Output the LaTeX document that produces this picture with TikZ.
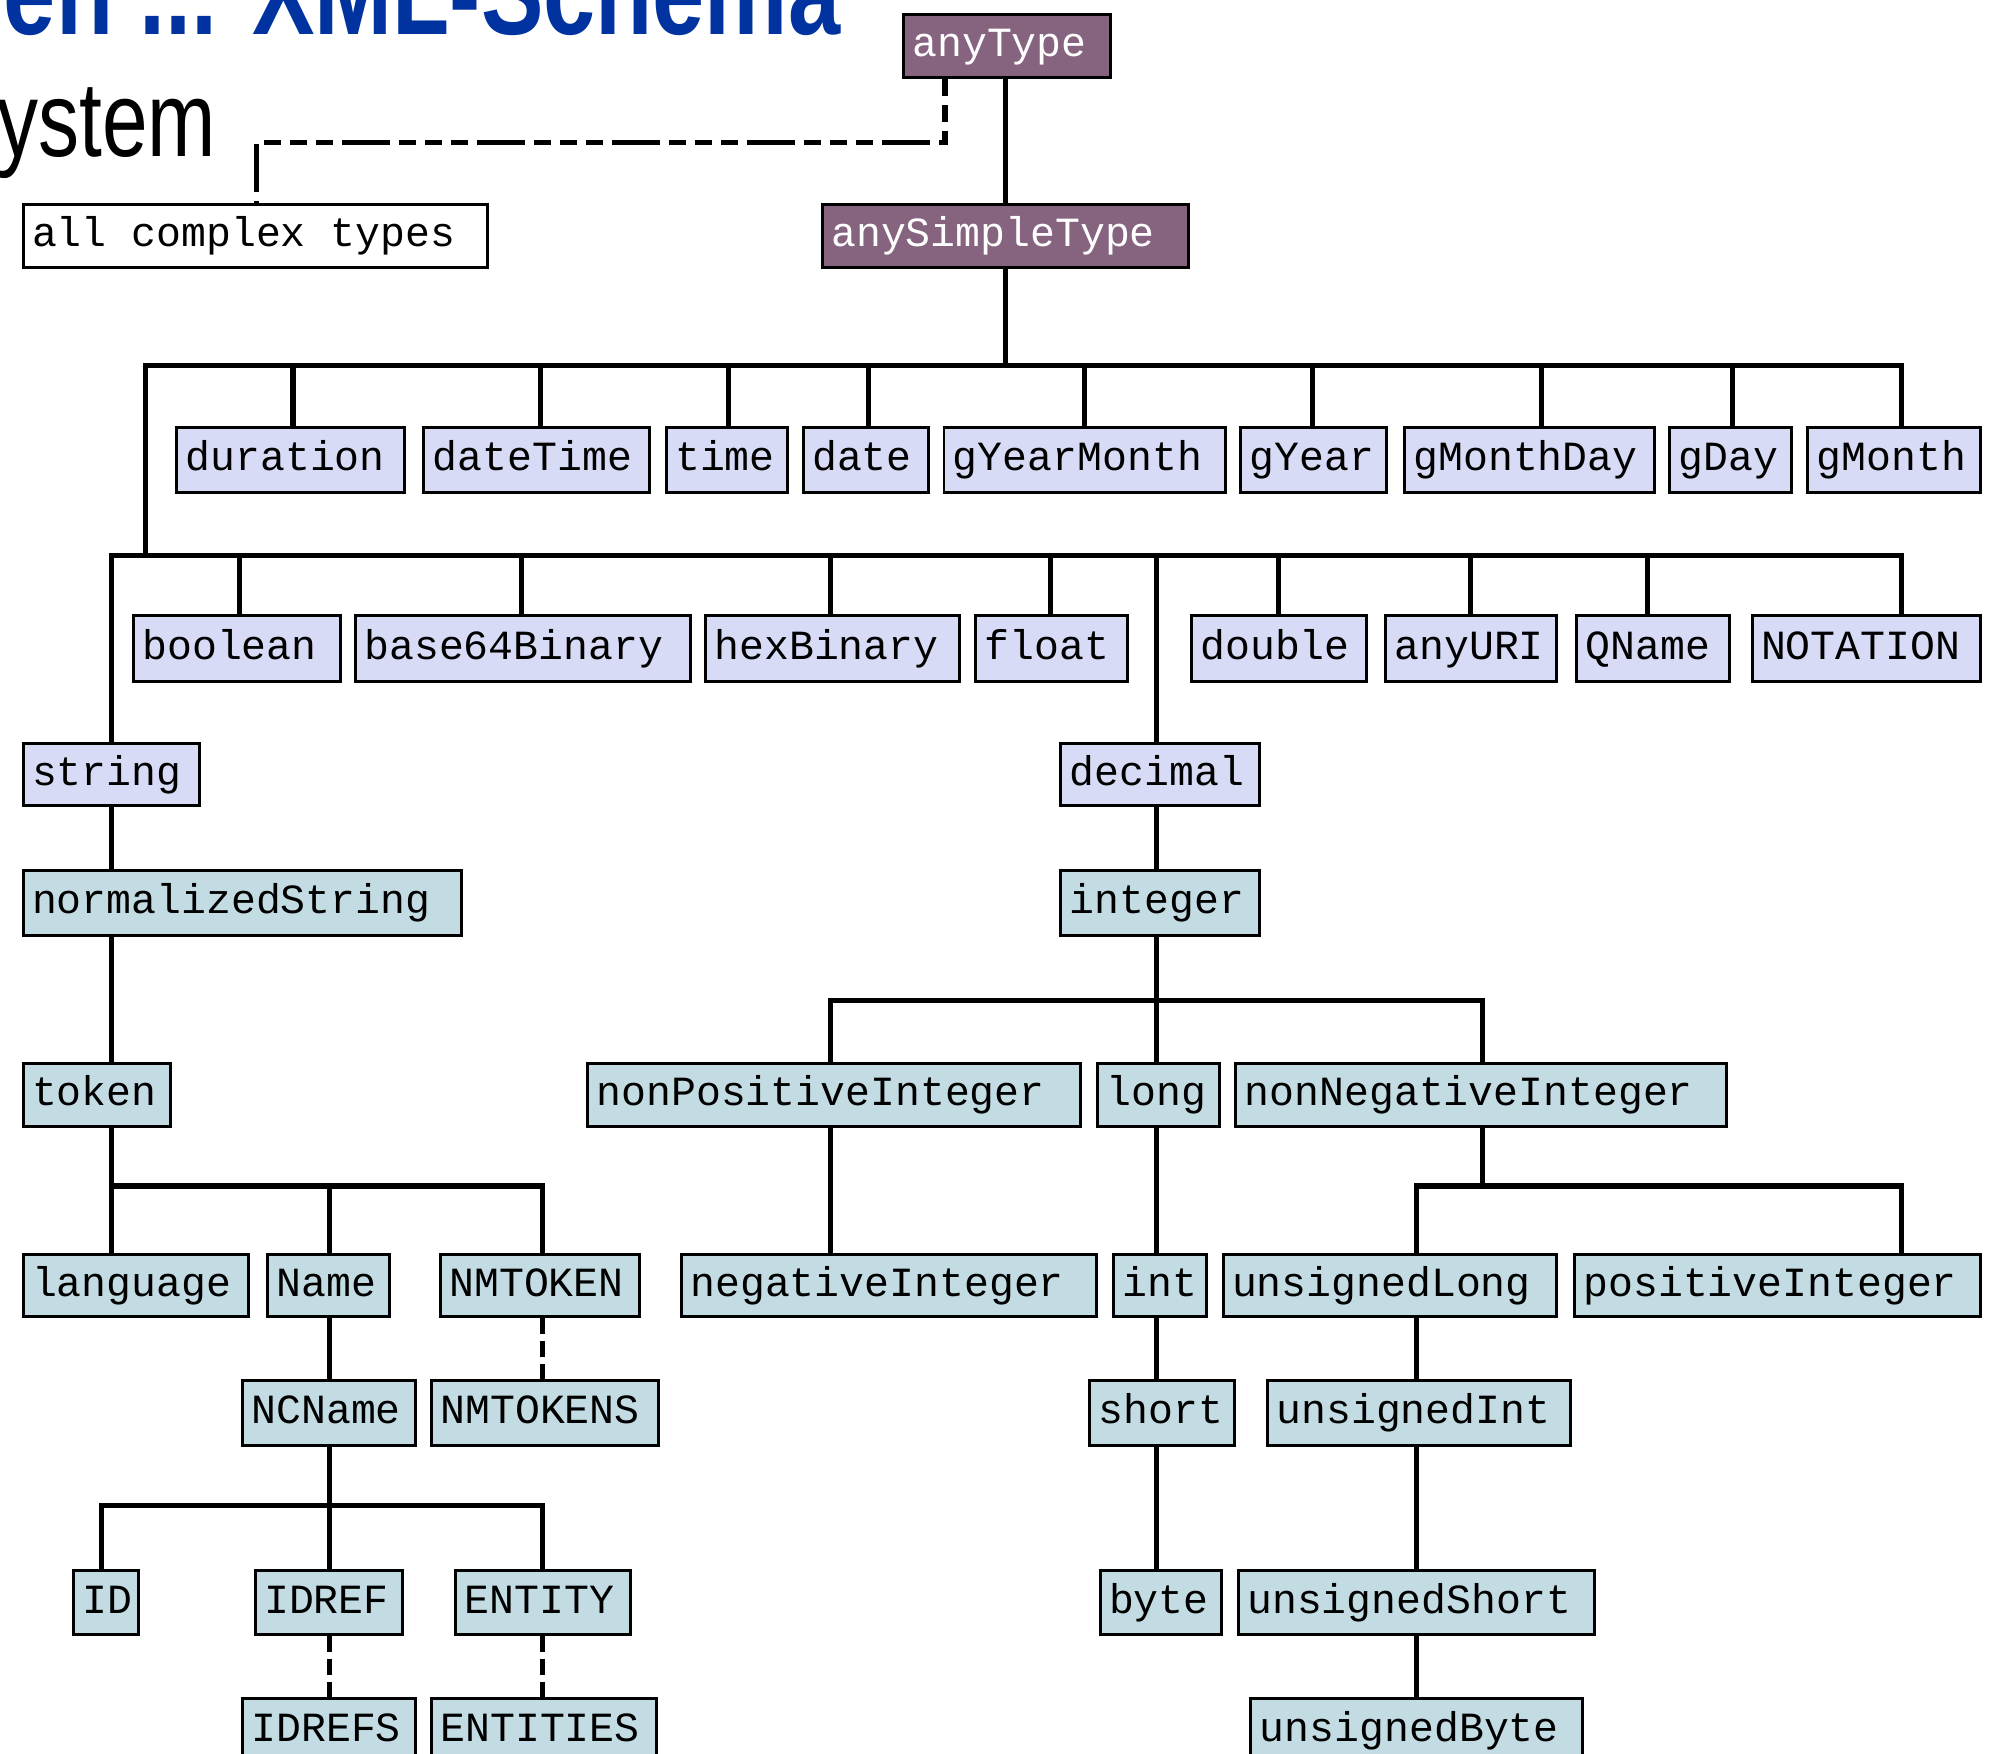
\documentclass[tikz,border=0pt]{standalone}
\usepackage{fontspec}
\setmainfont{Liberation Sans}
\newfontfamily\boxfont{Liberation Mono}
\definecolor{rootfill}{HTML}{866480}
\definecolor{primfill}{HTML}{D8DBF6}
\definecolor{derivfill}{HTML}{C3DCE3}
\definecolor{titleblue}{HTML}{0033A0}

% one type box: name, left, top, right, bottom, style, label
\newcommand\typebox[7]{%
  \pgfmathsetlengthmacro\bw{(#4-#2)*0.012685cm}%
  \pgfmathsetlengthmacro\bh{(#5-#3)*0.012685cm}%
  \pgfmathsetlengthmacro\tw{\bw-0.18cm}%
  \node[tbox,#6,minimum width=\bw,minimum height=\bh,anchor=north west]
    (#1) at (#2,#3) {\makebox[\tw][l]{#7}};}

\tikzset{
  tbox/.style={draw=black, line width=0.85pt, inner xsep=0.09cm, inner ysep=0pt,
    text height=0.304cm, text depth=0.089cm,
    font=\boxfont\fontsize{11.8pt}{14pt}\selectfont},
  rootbox/.style={fill=rootfill, text=white},
  primbox/.style={fill=primfill},
  derivbox/.style={fill=derivfill},
  cplxbox/.style={fill=white},
  link/.style={line width=1.45pt, line cap=rect},
  weak/.style={line width=1.45pt, line cap=butt,
    dash pattern=on 0.17cm off 0.09cm on 0.17cm off 0.09cm on 0.17cm off 0.09cm on 0.48cm off 0.09cm},
  listweak/.style={line width=1.45pt, line cap=butt, dash pattern=on 0.16cm off 0.07cm},
}

\begin{document}
\begin{tikzpicture}[x=0.012685cm, y=-0.012685cm]
\useasboundingbox (0,0) rectangle (1568,1382);
\clip (0,0) rectangle (1568,1382);

% slide heading fragments
\node[anchor=base east, inner sep=0pt, text=titleblue,
  font=\bfseries\fontsize{34.6pt}{40pt}\selectfont] (heading) at (663,27)
  {\scalebox{0.77}[1]{en ... XML-Schema}};
\node[anchor=base east, inner sep=0pt, text=black,
  font=\fontsize{30.3pt}{36pt}\selectfont] (bullet) at (171,123)
  {\scalebox{0.77}[1]{ystem}};

% roots
\typebox{anyType}{711}{10}{874}{60}{rootbox}{anyType}
\typebox{anySimpleType}{647}{160}{936}{210}{rootbox}{anySimpleType}
\typebox{complex}{17}{160}{383}{210}{cplxbox}{all complex types}

% primitive types, first row
\typebox{duration}{138}{336}{318}{387}{primbox}{duration}
\typebox{dateTime}{333}{336}{511}{387}{primbox}{dateTime}
\typebox{time}{524}{336}{620}{387}{primbox}{time}
\typebox{date}{632}{336}{731}{387}{primbox}{date}
\typebox{gYearMonth}{743}{336}{965}{387}{primbox}{gYearMonth}
\typebox{gYear}{977}{336}{1092}{387}{primbox}{gYear}
\typebox{gMonthDay}{1106}{336}{1303}{387}{primbox}{gMonthDay}
\typebox{gDay}{1315}{336}{1411}{387}{primbox}{gDay}
\typebox{gMonth}{1424}{336}{1560}{387}{primbox}{gMonth}

% primitive types, second row
\typebox{boolean}{104}{484}{267}{536}{primbox}{boolean}
\typebox{base64Binary}{279}{484}{543}{536}{primbox}{base64Binary}
\typebox{hexBinary}{555}{484}{755}{536}{primbox}{hexBinary}
\typebox{float}{768}{484}{888}{536}{primbox}{float}
\typebox{double}{938}{484}{1076}{536}{primbox}{double}
\typebox{anyURI}{1091}{484}{1226}{536}{primbox}{anyURI}
\typebox{QName}{1242}{484}{1362}{536}{primbox}{QName}
\typebox{NOTATION}{1380}{484}{1560}{536}{primbox}{NOTATION}
\typebox{string}{17}{585}{156}{634}{primbox}{string}
\typebox{decimal}{835}{585}{992}{634}{primbox}{decimal}

% derived types: string branch
\typebox{normalizedString}{17}{685}{363}{736}{derivbox}{normalizedString}
\typebox{token}{17}{837}{133}{887}{derivbox}{token}
\typebox{language}{17}{988}{195}{1037}{derivbox}{language}
\typebox{Name}{210}{988}{306}{1037}{derivbox}{Name}
\typebox{NMTOKEN}{346}{988}{503}{1037}{derivbox}{NMTOKEN}
\typebox{NCName}{190}{1087}{326}{1138}{derivbox}{NCName}
\typebox{NMTOKENS}{339}{1087}{518}{1138}{derivbox}{NMTOKENS}
\typebox{ID}{57}{1237}{108}{1287}{derivbox}{ID}
\typebox{IDREF}{200}{1237}{316}{1287}{derivbox}{IDREF}
\typebox{ENTITY}{358}{1237}{496}{1287}{derivbox}{ENTITY}
\typebox{IDREFS}{190}{1338}{326}{1389}{derivbox}{IDREFS}
\typebox{ENTITIES}{339}{1338}{516}{1389}{derivbox}{ENTITIES}

% derived types: decimal branch
\typebox{integer}{835}{685}{992}{736}{derivbox}{integer}
\typebox{nonPositiveInteger}{462}{837}{851}{887}{derivbox}{nonPositiveInteger}
\typebox{long}{864}{837}{960}{887}{derivbox}{long}
\typebox{nonNegativeInteger}{973}{837}{1360}{887}{derivbox}{nonNegativeInteger}
\typebox{negativeInteger}{536}{988}{863}{1037}{derivbox}{negativeInteger}
\typebox{int}{877}{988}{950}{1037}{derivbox}{int}
\typebox{unsignedLong}{963}{988}{1226}{1037}{derivbox}{unsignedLong}
\typebox{positiveInteger}{1240}{988}{1560}{1037}{derivbox}{positiveInteger}
\typebox{short}{858}{1087}{972}{1138}{derivbox}{short}
\typebox{unsignedInt}{998}{1087}{1237}{1138}{derivbox}{unsignedInt}
\typebox{byte}{866}{1237}{962}{1287}{derivbox}{byte}
\typebox{unsignedShort}{975}{1237}{1256}{1287}{derivbox}{unsignedShort}
\typebox{unsignedByte}{985}{1338}{1246}{1389}{derivbox}{unsignedByte}

% anyType links
\draw[link] (anyType.south -| 793,0) -- (anySimpleType.north -| 793,0);
\draw[weak] (anyType.south -| 745,0) -- (745,112) -- (202,112) -- (complex.north -| 202,0);

% primitive buses
\draw[link] (anySimpleType.south -| 793,0) -- (793,288);
\draw[link] (115,288) -- (1499,288);
\foreach \n/\x in {duration/231, dateTime/426, time/574, date/685, gYearMonth/855,
                   gYear/1035, gMonthDay/1215, gDay/1366, gMonth/1499}
  \draw[link] (\x,288) -- (\n.north -| \x,0);
\draw[link] (115,288) -- (115,438);
\draw[link] (88,438) -- (1499,438);
\foreach \n/\x in {boolean/189, base64Binary/411, hexBinary/655, float/828,
                   double/1008, anyURI/1159, QName/1299, NOTATION/1499,
                   string/88, decimal/912}
  \draw[link] (\x,438) -- (\n.north -| \x,0);

% string branch
\draw[link] (string.south -| 88,0) -- (normalizedString.north -| 88,0);
\draw[link] (normalizedString.south -| 88,0) -- (token.north -| 88,0);
\draw[link] (token.south -| 88,0) -- (88,935) -- (428,935);
\foreach \n/\x in {language/88, Name/260, NMTOKEN/428}
  \draw[link] (\x,935) -- (\n.north -| \x,0);
\draw[listweak] (NMTOKEN.south -| 428,0) -- (NMTOKENS.north -| 428,0);
\draw[link] (Name.south -| 260,0) -- (NCName.north -| 260,0);
\draw[link] (NCName.south -| 260,0) -- (260,1187);
\draw[link] (80,1187) -- (428,1187);
\foreach \n/\x in {ID/80, IDREF/260, ENTITY/428}
  \draw[link] (\x,1187) -- (\n.north -| \x,0);
\draw[listweak] (IDREF.south -| 260,0) -- (IDREFS.north -| 260,0);
\draw[listweak] (ENTITY.south -| 428,0) -- (ENTITIES.north -| 428,0);

% decimal branch
\draw[link] (decimal.south -| 912,0) -- (integer.north -| 912,0);
\draw[link] (integer.south -| 912,0) -- (912,789);
\draw[link] (655,789) -- (1169,789);
\foreach \n/\x in {nonPositiveInteger/655, long/912, nonNegativeInteger/1169}
  \draw[link] (\x,789) -- (\n.north -| \x,0);
\draw[link] (nonPositiveInteger.south -| 655,0) -- (negativeInteger.north -| 655,0);
\draw[link] (long.south -| 912,0) -- (int.north -| 912,0);
\draw[link] (int.south -| 912,0) -- (short.north -| 912,0);
\draw[link] (short.south -| 912,0) -- (byte.north -| 912,0);
\draw[link] (nonNegativeInteger.south -| 1169,0) -- (1169,935);
\draw[link] (1117,935) -- (1499,935);
\foreach \n/\x in {unsignedLong/1117, positiveInteger/1499}
  \draw[link] (\x,935) -- (\n.north -| \x,0);
\draw[link] (unsignedLong.south -| 1117,0) -- (unsignedInt.north -| 1117,0);
\draw[link] (unsignedInt.south -| 1117,0) -- (unsignedShort.north -| 1117,0);
\draw[link] (unsignedShort.south -| 1117,0) -- (unsignedByte.north -| 1117,0);
\end{tikzpicture}
\end{document}
